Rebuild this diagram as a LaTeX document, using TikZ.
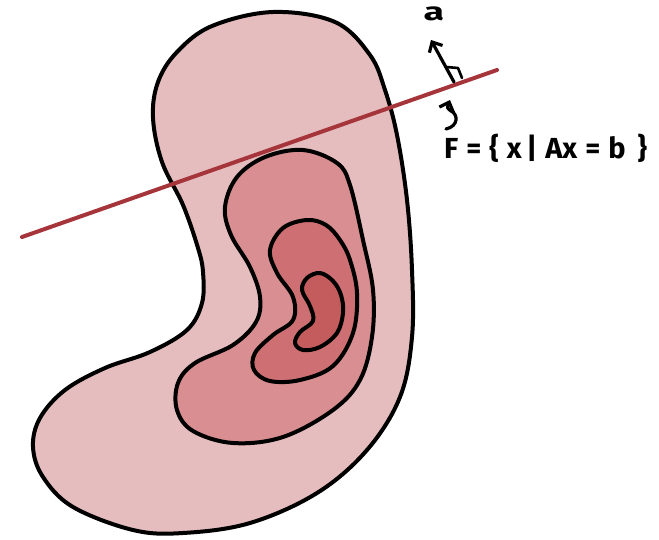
\documentclass[tikz,border=0pt]{standalone}
\usepackage{fontspec}
\setmainfont{Fira Sans}
\usetikzlibrary{arrows.meta}
\definecolor{lvA}{HTML}{E6BDBE}
\definecolor{lvB}{HTML}{D98E91}
\definecolor{lvC}{HTML}{CE7073}
\definecolor{lvD}{HTML}{C45C5E}
\definecolor{planeRed}{HTML}{A5353B}
\tikzset{
  contour/.style={draw=black, line width=4pt, line join=round},
  plane/.style={draw=planeRed, line width=4pt, line cap=round},
  hand/.style={draw=black, line width=3.2pt, line cap=round, line join=round},
  handarrow/.style={hand, -{Straight Barb[length=8pt,width=15pt,line width=3.2pt]}},
  label/.style={font=\bfseries\fontsize{29}{32}\selectfont, inner sep=0pt}
}
\newcommand{\gp}{\hspace{8pt}}
\begin{document}
\begin{tikzpicture}[x=1pt,y=-1pt]
\useasboundingbox (0,0) rectangle (659,539);
% outer level set
\path[contour, fill=lvA] plot[smooth cycle, tension=0.6] coordinates {
 (273,12) (335,22) (370,55) (385,90) (397,135) (407,200) (412,270) (412,337)
 (400,397) (367,450) (317,493) (250,523) (183,533) (133,530) (73,507) (43,477)
 (33,447) (40,418) (65,390) (105,368) (150,352) (187,330) (202,303) (203,272)
 (198,248) (183,205) (162,162) (153,118) (158,82) (177,52) (212,26)};
% second level set
\path[contour, fill=lvB] plot[smooth cycle, tension=0.6] coordinates {
 (303,150) (337,163) (350,185) (363,240) (373,290) (372,337) (360,380) (333,410)
 (283,437) (233,443) (193,431) (177,410) (178,383) (195,363) (233,345) (256,322)
 (260,297) (250,267) (231,235) (225,207) (237,177) (265,157)};
% third level set
\path[contour, fill=lvC] plot[smooth cycle, tension=0.6] coordinates {
 (307,220) (326,225) (340,240) (350,260) (357,293) (353,333) (333,366) (300,380)
 (270,381) (254,370) (255,353) (273,335) (293,320) (293,297) (277,273) (270,250)
 (283,228)};
% innermost level set
\path[contour, fill=lvD] plot[smooth cycle, tension=0.6] coordinates {
 (320,273) (333,281) (341,295) (343,313) (337,333) (320,347) (303,350) (295,343)
 (300,332) (313,321) (310,306) (302,290) (307,278)};
% hyperplane
\coordinate (pl) at (22,237);
\coordinate (pr) at (497,70);
\draw[plane] (pl) -- (pr);
% normal vector a
\coordinate (abase) at (454,82);
\coordinate (atip) at (431,40);
\draw[handarrow] (abase) -- (atip);
\coordinate (rA) at (446,67);
\coordinate (rB) at (458,68);
\coordinate (rC) at (462,78);
\draw[hand, line width=2.6pt] (rA) -- (rB) -- (rC);
\node[label, font=\bfseries\fontsize{25}{27}\selectfont, xscale=1.5, anchor=base] (alab) at (434,20) {a};
% curly pointer to F
\coordinate (cs) at (446,129);
\coordinate (ce) at (450,100);
\draw[handarrow] (cs) .. controls (459,126) and (458,114) .. (451,111)
  .. controls (447,108) .. (ce);
\node[label, anchor=west] (flab) at (444,148) {F\gp=\gp\{\gp x\,|\gp Ax\gp=\gp b\hspace{12pt}\}};
\end{tikzpicture}
\end{document}
